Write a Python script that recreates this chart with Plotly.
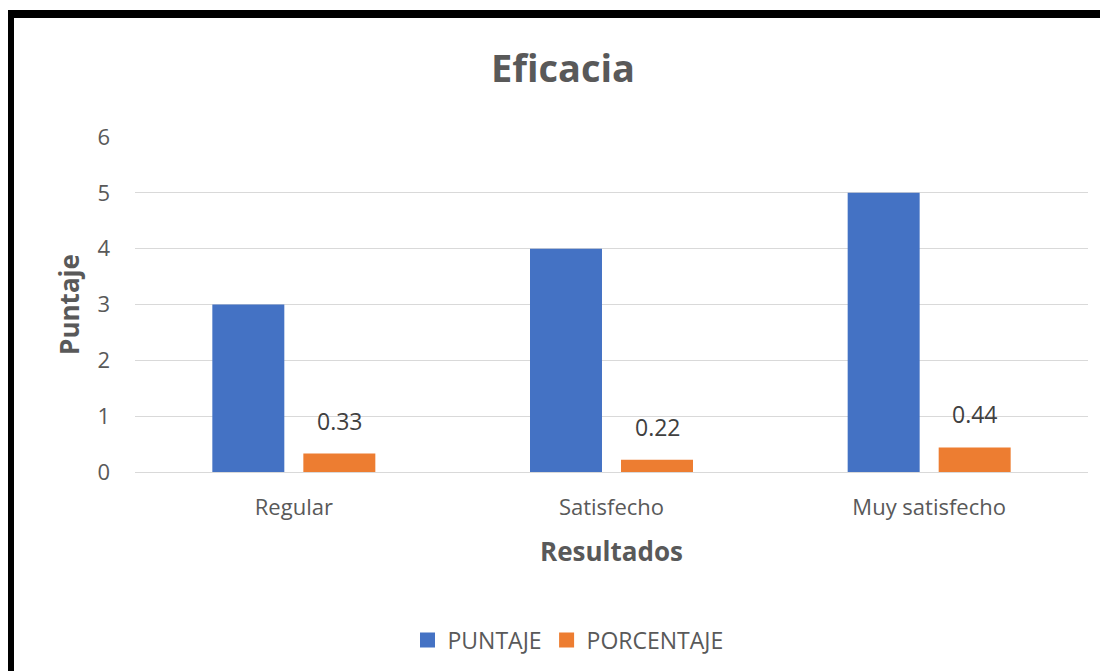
import plotly.graph_objects as go

categories = ["Regular", "Satisfecho", "Muy satisfecho"]
puntaje = [3, 4, 5]
porcentaje = [0.33, 0.22, 0.44]
porcentaje_labels = ["0.33", "0.22", "0.44"]
series_names = ["PUNTAJE", "PORCENTAJE"]
series_colors = ["#4472C4", "#ED7D31"]

O = 8  # page body offset in the screenshot
W, H = 1108, 671
L, R, T, B = 135 - O, 1088 - O, 137 - O, 472 - O
pw, ph = R - L, B - T

def px(x):
    return (x - O - L) / pw

def py(y):
    return (B - (y - O)) / ph

FONT = "Open Sans"
GRAY = "#595959"

fig = go.Figure()
for name, vals, col in zip(series_names, [puntaje, porcentaje], series_colors):
    fig.add_trace(go.Bar(x=categories, y=vals, name=name, showlegend=False,
                         legendgroup=name,
                         marker=dict(color=col, line=dict(width=0))))
# legend entries with larger square swatches
for name, col in zip(series_names, series_colors):
    fig.add_trace(go.Scatter(x=[None], y=[None], mode="markers", name=name,
                             legendgroup=name,
                             marker=dict(symbol="square", size=15, color=col),
                             hoverinfo="skip"))

annotations = [
    dict(x=c, y=v, text=t, xref="x", yref="y", showarrow=False,
         xshift=46, yshift=15, yanchor="bottom", xanchor="center",
         font=dict(size=23, color="#404040", family=FONT))
    for c, v, t in zip(categories, porcentaje, porcentaje_labels)
]

fig.update_layout(
    width=W, height=H,
    margin=dict(l=L, r=W - R, t=T, b=H - B, pad=0),
    paper_bgcolor="white", plot_bgcolor="white",
    barmode="group", bargap=0.427, bargroupgap=0.209,
    font=dict(family=FONT, color=GRAY, size=22),
    title=dict(text="<b>Eficacia</b>", x=(563 - O) / W, xanchor="center",
               y=1 - (69 - O) / H, yanchor="middle",
               font=dict(size=38, color=GRAY, family=FONT)),
    xaxis=dict(showgrid=False, showline=False, ticks="",
               tickfont=dict(size=22, color=GRAY), ticklabelstandoff=20,
               title=dict(text="<b>Resultados</b>", font=dict(size=26, color=GRAY),
                          standoff=22)),
    yaxis=dict(range=[0, 6], dtick=1, showgrid=True, gridcolor="#d9d9d9",
               gridwidth=1.3, zeroline=True, zerolinecolor="#d9d9d9",
               zerolinewidth=1.3, showline=False, ticks="",
               tickfont=dict(size=22, color=GRAY), ticklabelstandoff=24,
               title=dict(text="<b>Puntaje</b>", font=dict(size=26, color=GRAY),
                          standoff=10)),
    legend=dict(orientation="h", x=px(568), xanchor="center",
                y=py(640), yanchor="middle",
                font=dict(size=23, color=GRAY), itemwidth=30,
                traceorder="normal"),
    annotations=annotations,
    shapes=[
        dict(type="rect", xref="paper", yref="paper",
             x0=px(0), x1=px(14), y0=py(10), y1=py(H + 20),
             fillcolor="black", line=dict(width=0), layer="above"),
        dict(type="rect", xref="paper", yref="paper",
             x0=px(6), x1=px(W + 20), y0=py(10), y1=py(18),
             fillcolor="black", line=dict(width=0), layer="above"),
    ],
)

fig.write_html("out.html")
